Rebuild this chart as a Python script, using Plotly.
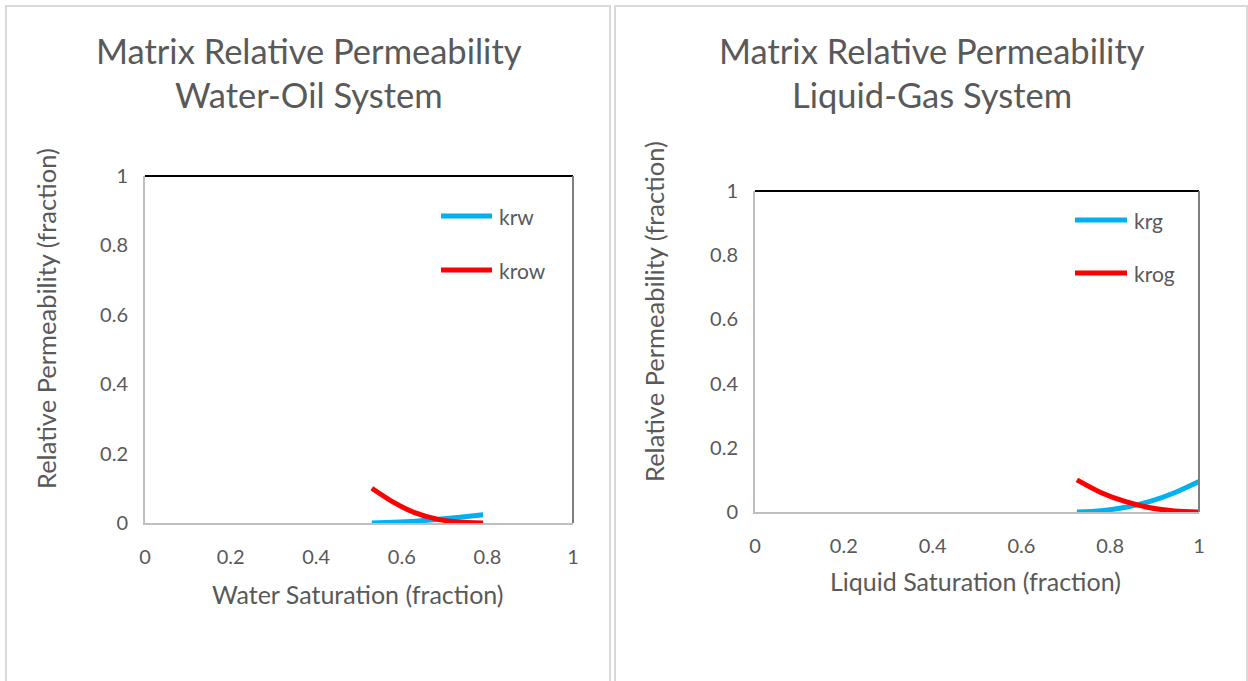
import plotly.graph_objects as go

# ---- data ----
sw = [0.53, 0.58, 0.63, 0.68, 0.73, 0.79]
krw = [0.0, 0.002, 0.005, 0.010, 0.016, 0.024]
krow = [0.10, 0.060, 0.030, 0.012, 0.003, 0.0]

sl = [0.725, 0.78, 0.835, 0.89, 0.945, 1.0]
krg = [0.0, 0.004, 0.015, 0.033, 0.060, 0.095]
krog = [0.10, 0.060, 0.032, 0.013, 0.003, 0.0]

ticks = [0, 0.2, 0.4, 0.6, 0.8, 1]
tick_text = ["0", "0.2", "0.4", "0.6", "0.8", "1"]

W, H = 1248, 681
BLUE = "#00B0F0"
RED = "#FF0000"
TXT = "#595959"
FONT = "Lato"

def px(x):
    return x / W

def py(y):
    return 1 - y / H

line_style = dict(width=5, shape="spline", smoothing=0.8)

fig = go.Figure()
fig.add_trace(go.Scatter(x=sw, y=krw, mode="lines", name="krw", line=dict(color=BLUE, **line_style), xaxis="x", yaxis="y"))
fig.add_trace(go.Scatter(x=sw, y=krow, mode="lines", name="krow", line=dict(color=RED, **line_style), xaxis="x", yaxis="y"))
fig.add_trace(go.Scatter(x=sl, y=krg, mode="lines", name="krg", line=dict(color=BLUE, **line_style), xaxis="x2", yaxis="y2"))
fig.add_trace(go.Scatter(x=sl, y=krog, mode="lines", name="krog", line=dict(color=RED, **line_style), xaxis="x2", yaxis="y2"))

axis_common = dict(range=[0, 1], tickvals=ticks, ticktext=tick_text, showgrid=False, zeroline=False,
                   showline=True, linecolor="#BFBFBF", linewidth=2, ticks="", automargin=False,
                   tickfont=dict(family=FONT, size=20, color=TXT), fixedrange=True)

fig.update_layout(
    width=W, height=H, autosize=False,
    margin=dict(l=0, r=0, t=0, b=0, pad=0, autoexpand=False),
    paper_bgcolor="white", plot_bgcolor="white", showlegend=False,
    xaxis=dict(domain=[px(145), px(573)], anchor="y", ticklabelstandoff=15, **axis_common),
    yaxis=dict(domain=[py(523), py(176)], anchor="x", ticklabelstandoff=11, **axis_common),
    xaxis2=dict(domain=[px(755), px(1199)], anchor="y2", ticklabelstandoff=15, **axis_common),
    yaxis2=dict(domain=[py(512), py(191)], anchor="x2", ticklabelstandoff=11, **axis_common),
)

shapes = []
# panel borders
shapes.append(dict(type="rect", xref="paper", yref="paper", x0=px(6), x1=px(610), y0=py(6), y1=py(690),
                   line=dict(color="#D9D9D9", width=2)))
shapes.append(dict(type="rect", xref="paper", yref="paper", x0=px(615), x1=px(1247), y0=py(6), y1=py(690),
                   line=dict(color="#D9D9D9", width=2)))
# plot-area top / right edges
for xr, yr in (("x", "y"), ("x2", "y2")):
    shapes.append(dict(type="line", xref=xr + " domain", yref=yr + " domain", x0=0, x1=1, y0=1, y1=1,
                       line=dict(color="#000000", width=2)))
    shapes.append(dict(type="line", xref=xr + " domain", yref=yr + " domain", x0=1, x1=1, y0=0, y1=1,
                       line=dict(color="#7F7F7F", width=2)))

annotations = []
# legends (manual)
legend_items = [
    (441, 492, 216, BLUE, "krw"), (441, 492, 270, RED, "krow"),
    (1075, 1127, 220, BLUE, "krg"), (1075, 1127, 273, RED, "krog"),
]
for x0, x1, yy, col, name in legend_items:
    shapes.append(dict(type="line", xref="paper", yref="paper", x0=px(x0), x1=px(x1), y0=py(yy), y1=py(yy),
                       line=dict(color=col, width=5)))
    annotations.append(dict(text=name, xref="paper", yref="paper", x=px(x1 + 5), y=py(yy), xanchor="left",
                            yanchor="middle", showarrow=False, font=dict(family=FONT, size=21, color=TXT)))

# titles
for cx, t1, t2 in ((309, "Matrix Relative Permeability", "Water-Oil System"),
                   (932, "Matrix Relative Permeability", "Liquid-Gas System")):
    annotations.append(dict(text=t1, xref="paper", yref="paper", x=px(cx), y=py(50), xanchor="center",
                            yanchor="middle", showarrow=False, font=dict(family=FONT, size=34.5, color=TXT)))
    annotations.append(dict(text=t2, xref="paper", yref="paper", x=px(cx), y=py(95), xanchor="center",
                            yanchor="middle", showarrow=False, font=dict(family=FONT, size=34.5, color=TXT)))

# axis titles
annotations.append(dict(text="Water Saturation (fraction)", xref="paper", yref="paper", x=px(358), y=py(594),
                        xanchor="center", yanchor="middle", showarrow=False, font=dict(family=FONT, size=25, color=TXT)))
annotations.append(dict(text="Liquid Saturation (fraction)", xref="paper", yref="paper", x=px(975), y=py(581),
                        xanchor="center", yanchor="middle", showarrow=False, font=dict(family=FONT, size=25, color=TXT)))
annotations.append(dict(text="Relative Permeability (fraction)", xref="paper", yref="paper", x=px(46), y=py(319),
                        xanchor="center", yanchor="middle", textangle=-90, showarrow=False,
                        font=dict(family=FONT, size=25.5, color=TXT)))
annotations.append(dict(text="Relative Permeability (fraction)", xref="paper", yref="paper", x=px(654), y=py(312),
                        xanchor="center", yanchor="middle", textangle=-90, showarrow=False,
                        font=dict(family=FONT, size=25.5, color=TXT)))

fig.update_layout(shapes=shapes, annotations=annotations)

post = ("document.documentElement.style.margin='0';document.documentElement.style.overflow='hidden';"
        "document.body.style.margin='0';document.body.style.padding='0';document.body.style.overflow='hidden';"
        "var d=document.getElementById('{plot_id}');d.style.display='block';"
        "if(d.parentElement){d.parentElement.style.margin='0';}")
fig.write_html("out.html", post_script=post, config={"displayModeBar": False})
